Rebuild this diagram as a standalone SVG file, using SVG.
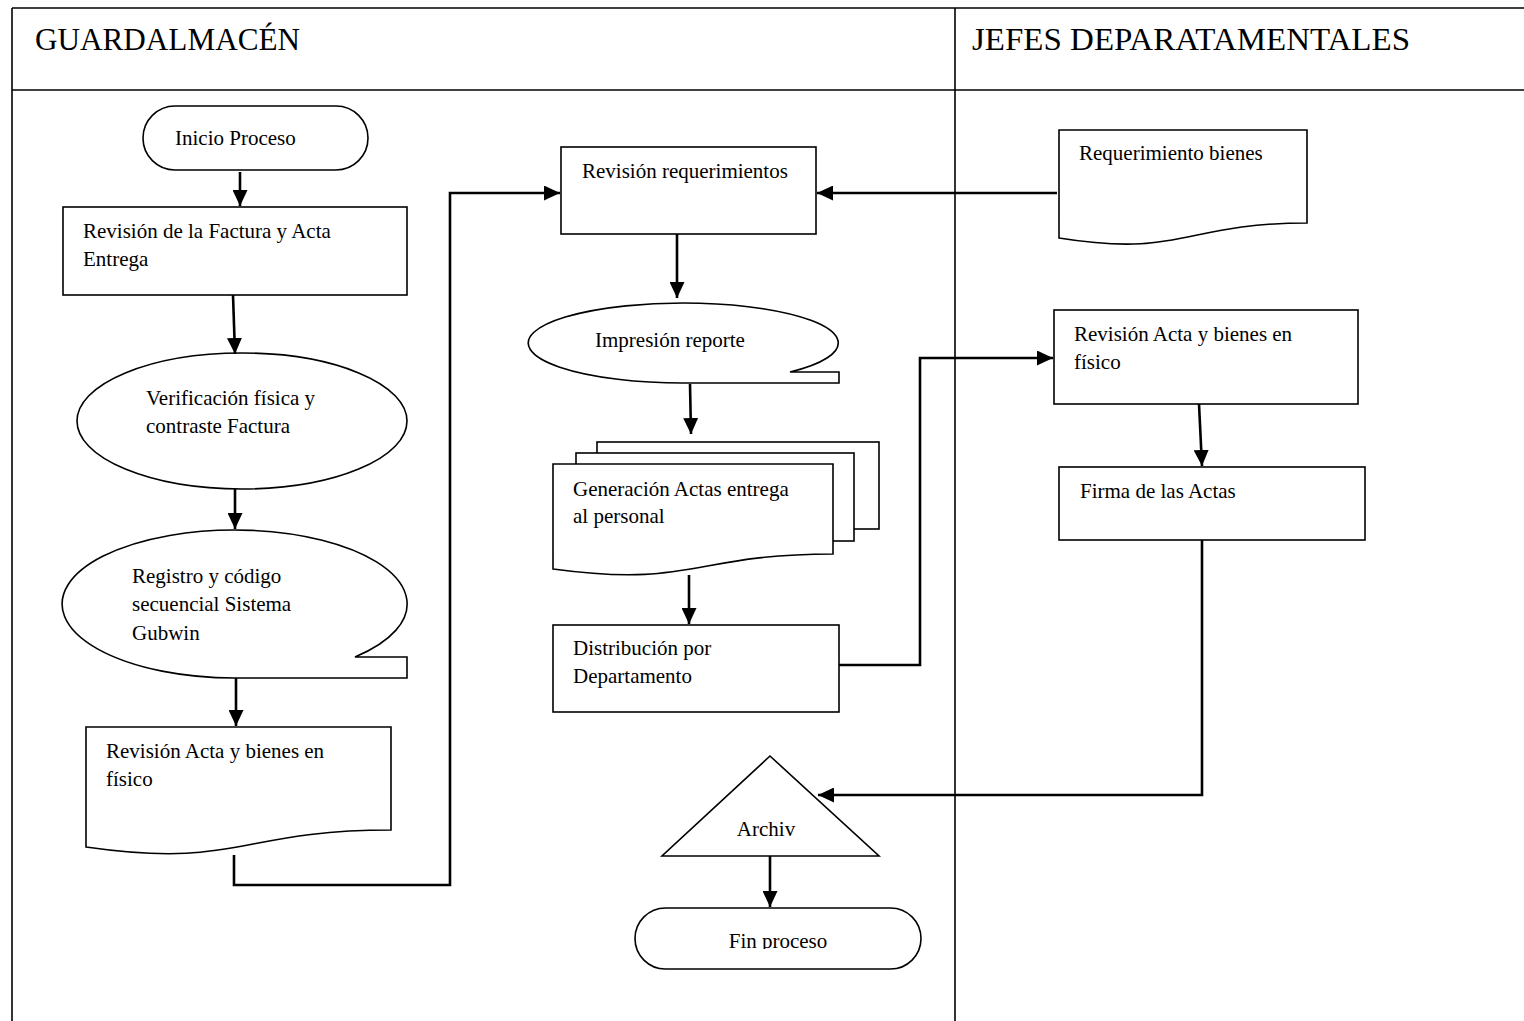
<svg xmlns="http://www.w3.org/2000/svg" width="1524" height="1021" viewBox="0 0 1524 1021">
  <style>
    .shape { fill: #ffffff; stroke: #000000; stroke-width: 1.6; }
    .grid { fill: none; stroke: #000000; stroke-width: 1.6; }
    .conn { fill: none; stroke: #000000; stroke-width: 2.6; }
    .lbl { font-family: "Liberation Serif", "Times New Roman", serif; font-size: 21px; fill: #000000; }
    .head { font-family: "Liberation Serif", "Times New Roman", serif; font-size: 31.5px; fill: #000000; }
  </style>
  <defs>
    <marker id="arrow" markerUnits="userSpaceOnUse" markerWidth="16" markerHeight="15" refX="16" refY="7.5" orient="auto">
      <path d="M0,0 L16,7.5 L0,15 Z" fill="#000000"/>
    </marker>
    <clipPath id="finClip">
      <rect x="635" y="908" width="287" height="41"/>
    </clipPath>
  </defs>

  <rect width="1524" height="1021" fill="#ffffff"/>

  <!-- swimlane table -->
  <g id="lanes">
    <line class="grid" x1="12" y1="8" x2="1524" y2="8"/>
    <line class="grid" x1="12" y1="90" x2="1524" y2="90"/>
    <line class="grid" x1="12" y1="8" x2="12" y2="1021"/>
    <line class="grid" x1="955" y1="8" x2="955" y2="1021"/>
    <text class="head" x="35" y="50" textLength="265" lengthAdjust="spacingAndGlyphs">GUARDALMACÉN</text>
    <text class="head" x="972" y="50" textLength="438" lengthAdjust="spacingAndGlyphs">JEFES DEPARATAMENTALES</text>
  </g>

  <!-- left lane -->
  <g id="inicio">
    <rect class="shape" x="143" y="106" width="225" height="64" rx="32" ry="32"/>
    <text class="lbl" x="175" y="145">Inicio Proceso</text>
  </g>

  <g id="revision-factura">
    <rect class="shape" x="63" y="207" width="344" height="88"/>
    <text class="lbl" x="83" y="238">Revisión de la Factura y Acta</text>
    <text class="lbl" x="83" y="266">Entrega</text>
  </g>

  <g id="verificacion">
    <ellipse class="shape" cx="242" cy="421" rx="165" ry="68"/>
    <text class="lbl" x="146" y="405">Verificación física y</text>
    <text class="lbl" x="146" y="433">contraste Factura</text>
  </g>

  <g id="registro">
    <path class="shape" d="M234.5,678 A172.5,74 0 1 1 355,657 L407,657 L407,678 Z"/>
    <text class="lbl" x="132" y="583">Registro y código</text>
    <text class="lbl" x="132" y="611">secuencial Sistema</text>
    <text class="lbl" x="132" y="640">Gubwin</text>
  </g>

  <g id="revision-acta-guard">
    <path class="shape" d="M86,727 H391 V830 C238.5,830 238.5,869 86,847 Z"/>
    <text class="lbl" x="106" y="758">Revisión Acta y bienes en</text>
    <text class="lbl" x="106" y="786">físico</text>
  </g>

  <!-- middle column -->
  <g id="revision-requerimientos">
    <rect class="shape" x="561" y="147" width="255" height="87"/>
    <text class="lbl" x="582" y="178">Revisión requerimientos</text>
  </g>

  <g id="impresion">
    <path class="shape" d="M683,383 A155,40 0 1 1 790,372 L839,372 L839,383 Z"/>
    <text class="lbl" x="595" y="347">Impresión reporte</text>
  </g>

  <g id="generacion-actas">
    <rect class="shape" x="597" y="442" width="282" height="87"/>
    <rect class="shape" x="576" y="453" width="278" height="88"/>
    <path class="shape" d="M553,464 H833 V554 C693,554 693,588 553,569 Z"/>
    <text class="lbl" x="573" y="496">Generación Actas entrega</text>
    <text class="lbl" x="573" y="523">al personal</text>
  </g>

  <g id="distribucion">
    <rect class="shape" x="553" y="625" width="286" height="87"/>
    <text class="lbl" x="573" y="655">Distribución por</text>
    <text class="lbl" x="573" y="683">Departamento</text>
  </g>

  <g id="archivo">
    <polygon class="shape" points="770,756 879,856 662,856"/>
    <text class="lbl" x="766" y="836" text-anchor="middle">Archiv</text>
  </g>

  <g id="fin">
    <rect class="shape" x="635" y="908" width="286" height="61" rx="30.5" ry="30.5"/>
    <text class="lbl" x="778" y="948" text-anchor="middle" clip-path="url(#finClip)">Fin proceso</text>
  </g>

  <!-- right lane -->
  <g id="requerimiento-bienes">
    <path class="shape" d="M1059,130 H1307 V223 C1183,223 1183,258 1059,238 Z"/>
    <text class="lbl" x="1079" y="160">Requerimiento bienes</text>
  </g>

  <g id="revision-acta-jefes">
    <rect class="shape" x="1054" y="310" width="304" height="94"/>
    <text class="lbl" x="1074" y="341">Revisión Acta y bienes en</text>
    <text class="lbl" x="1074" y="369">físico</text>
  </g>

  <g id="firma">
    <rect class="shape" x="1059" y="467" width="306" height="73"/>
    <text class="lbl" x="1080" y="498">Firma de las Actas</text>
  </g>

  <!-- connectors -->
  <g id="connectors">
    <line class="conn" x1="240" y1="172" x2="240" y2="206" marker-end="url(#arrow)"/>
    <line class="conn" x1="233" y1="295" x2="235" y2="354" marker-end="url(#arrow)"/>
    <line class="conn" x1="235" y1="489" x2="235" y2="529" marker-end="url(#arrow)"/>
    <line class="conn" x1="236" y1="678" x2="236" y2="726" marker-end="url(#arrow)"/>
    <polyline class="conn" points="234,855 234,885 450,885 450,193 560,193" marker-end="url(#arrow)"/>
    <line class="conn" x1="1057" y1="193" x2="817" y2="193" marker-end="url(#arrow)"/>
    <line class="conn" x1="677" y1="234" x2="677" y2="298" marker-end="url(#arrow)"/>
    <line class="conn" x1="690" y1="384" x2="691" y2="434" marker-end="url(#arrow)"/>
    <line class="conn" x1="689" y1="575" x2="689" y2="624" marker-end="url(#arrow)"/>
    <polyline class="conn" points="839,665 920,665 920,358 1053,358" marker-end="url(#arrow)"/>
    <line class="conn" x1="1199" y1="404" x2="1202" y2="466" marker-end="url(#arrow)"/>
    <polyline class="conn" points="1202,540 1202,795 818,795" marker-end="url(#arrow)"/>
    <line class="conn" x1="770" y1="856" x2="770" y2="907" marker-end="url(#arrow)"/>
  </g>
</svg>
